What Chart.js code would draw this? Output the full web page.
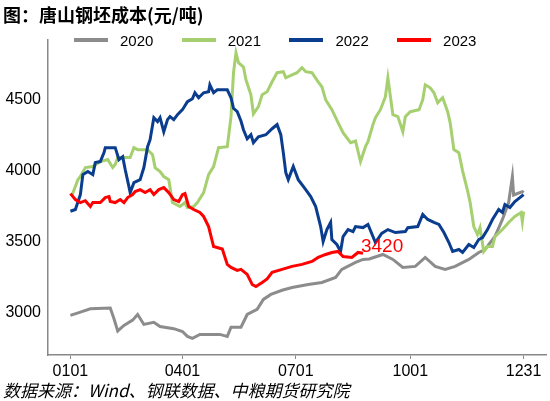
<!DOCTYPE html>
<html>
<head>
<meta charset="utf-8">
<script src="https://cdn.jsdelivr.net/npm/chart.js@4.4.0/dist/chart.umd.min.js"></script>
<style>
  body { margin: 0; background: #fff; }
  #wrap { position: relative; width: 550px; height: 401px; overflow: hidden; }
  #chart { position: absolute; left: 0; top: 0; }
  .title { position: absolute; left: 3px; top: 5px; font: bold 18px "Noto Sans CJK SC", sans-serif; line-height: 18px; color: #000; }
  .source { position: absolute; left: 3px; top: 381px; font: italic 17px "Noto Sans CJK SC", sans-serif; line-height: 17px; color: #000; }
  .legend-item { position: absolute; top: 32px; height: 16px; display: flex; align-items: center; font: 15px "Liberation Sans", Arial, sans-serif; color: #000; }
  .legend-line { display: inline-block; width: 34px; height: 4px; margin-right: 12px; }
</style>
</head>
<body>
<div id="wrap">
  <canvas id="chart" width="550" height="401"></canvas>
  <div class="title">图：唐山钢坯成本(元/吨)</div>
  <div id="legend"></div>
  <div class="source">数据来源：Wind、钢联数据、中粮期货研究院</div>
</div>
<script>
// day of year (0 = 0101) and cost values
const days2020 = [0,8,16,32,35,38,43,50,54,59,67,72,83,90,94,98,104,120,126,129,137,142,150,155,161,170,178,191,202,213,218,229,235,240,251,259,267,277,285,293,301,309,320,328,333,341,347,352,355,356,363,364];
const cost2020 = [2984,3007,3030,3035,2960,2874,2913,2950,2990,2920,2935,2905,2890,2870,2836,2822,2850,2850,2836,2900,2900,2990,3026,3096,3131,3160,3180,3201,3215,3250,3307,3356,3377,3380,3412,3377,3321,3328,3391,3328,3307,3328,3377,3426,3447,3538,3658,3777,3959,3830,3854,3847];

const days2021 = [1,6,8,12,18,24,30,34,36,38,48,51,54,62,66,68,72,75,79,82,88,92,94,99,102,107,111,115,119,126,129,131,133,135,139,141,145,147,151,154,158,162,166,171,173,178,182,186,189,194,199,202,205,210,215,219,225,229,233,237,239,243,245,249,253,255,259,263,267,269,273,280,283,285,289,292,295,299,303,305,308,312,315,319,321,324,327,329,332,335,339,341,347,352,357,362,363,364];
const cost2021 = [3821,3938,3960,4023,4030,4065,4079,4023,4044,4093,4093,4163,4149,4149,4114,4023,3995,3960,3938,3777,3749,3777,3742,3749,3777,3847,3973,4030,4163,4170,4381,4690,4830,4760,4730,4640,4535,4400,4451,4535,4556,4626,4690,4697,4654,4675,4690,4725,4697,4690,4626,4591,4500,4430,4339,4268,4198,4210,4065,4170,4205,4325,4374,4430,4521,4654,4395,4381,4275,4381,4416,4430,4500,4605,4584,4549,4479,4514,4416,4339,4149,4128,4000,3860,3780,3608,3552,3600,3433,3468,3468,3538,3587,3637,3679,3707,3644,3714];

const days2022 = [0,4,8,10,14,18,20,24,27,28,36,39,42,44,47,48,51,56,59,62,64,67,70,72,75,78,80,83,86,90,94,98,100,103,107,111,112,115,118,126,129,131,134,137,139,142,145,147,151,157,162,166,169,171,173,175,179,183,189,193,197,201,203,206,209,210,214,217,219,223,227,229,235,239,243,245,250,255,261,269,271,279,283,287,292,296,300,304,307,312,315,320,324,328,331,335,339,344,347,349,353,357,361,364];
const cost2022 = [3716,3728,3833,3973,3995,3973,4058,4065,4128,4163,4163,4079,4100,4009,3889,3847,3917,3938,4023,4170,4219,4374,4346,4374,4275,4360,4381,4360,4395,4430,4486,4507,4549,4514,4549,4556,4605,4549,4570,4570,4514,4440,4416,4350,4289,4225,4254,4198,4240,4254,4296,4325,4254,4128,3988,3938,4030,3938,3868,3819,3749,3608,3503,3587,3637,3517,3482,3433,3538,3587,3573,3608,3601,3623,3538,3496,3560,3587,3566,3573,3600,3608,3693,3658,3637,3623,3566,3496,3433,3447,3426,3482,3461,3517,3531,3587,3658,3728,3707,3763,3742,3784,3812,3833];

const days2023 = [0,4,8,12,16,18,24,28,31,32,36,40,43,46,50,52,56,60,64,67,71,75,79,83,87,90,92,95,99,104,107,111,115,122,126,129,134,137,142,146,149,154,158,162,170,178,186,194,199,205,210,215,219,226,231,235];
const cost2023 = [3840,3798,3777,3790,3749,3777,3777,3812,3819,3784,3777,3798,3777,3812,3833,3854,3868,3847,3868,3833,3868,3882,3847,3798,3784,3833,3840,3749,3728,3707,3679,3608,3468,3450,3342,3321,3300,3307,3272,3201,3187,3215,3240,3286,3307,3328,3342,3363,3391,3412,3426,3433,3398,3391,3426,3420];

const seriesNames = ['2020', '2021', '2022', '2023'];
const seriesColors = ['#8c8c8c', '#a6d06f', '#0b3d8f', '#ff0000'];

const xTickDays = [0, 90, 181, 273, 364];
const xTickLabels = ['0101', '0401', '0701', '1001', '1231'];
const yTicks = [3000, 3500, 4000, 4500];

function toPoints(days, vals) {
    return days.map((d, i) => ({ x: d, y: vals[i] }));
}

const allDays = [days2020, days2021, days2022, days2023];
const allCosts = [cost2020, cost2021, cost2022, cost2023];

// Build the html legend
const legendEl = document.getElementById('legend');
seriesNames.forEach((name, i) => {
    const item = document.createElement('div');
    item.className = 'legend-item';
    item.style.left = (74 + i * 107.7) + 'px';
    const line = document.createElement('span');
    line.className = 'legend-line';
    line.style.backgroundColor = seriesColors[i];
    const label = document.createElement('span');
    label.textContent = name;
    item.appendChild(line);
    item.appendChild(label);
    legendEl.appendChild(item);
});

// Label the last point of 2023
const lastValueLabel = {
    id: 'lastValueLabel',
    afterDatasetsDraw(chart) {
        const meta = chart.getDatasetMeta(3);
        const pt = meta.data[meta.data.length - 1];
        const ctx = chart.ctx;
        ctx.save();
        ctx.font = '19px "Liberation Sans", Arial, sans-serif';
        ctx.fillStyle = '#ff0000';
        ctx.textAlign = 'left';
        ctx.textBaseline = 'bottom';
        ctx.fillText(String(cost2023[cost2023.length - 1]), pt.x - 2, pt.y + 3);
        ctx.restore();
    }
};

const ctx = document.getElementById('chart').getContext('2d');
const chart = new Chart(ctx, {
    type: 'line',
    data: {
        datasets: seriesNames.map((name, i) => ({
            label: name,
            data: toPoints(allDays[i], allCosts[i]),
            borderColor: seriesColors[i],
            backgroundColor: seriesColors[i],
            borderWidth: 3,
            pointRadius: 0,
            tension: 0,
            order: 4 - i
        }))
    },
    options: {
        responsive: false,
        devicePixelRatio: 1,
        animation: false,
        layout: { padding: { top: 40, right: 4, left: 0, bottom: 0 } },
        plugins: {
            legend: { display: false },
            tooltip: { enabled: false }
        },
        scales: {
            x: {
                type: 'linear',
                min: -18,
                max: 382,
                afterFit: s => { s.height = 46; },
                afterBuildTicks: s => { s.ticks = xTickDays.map(v => ({ value: v })); },
                grid: { drawOnChartArea: false, drawTicks: true, tickLength: 4, color: '#888' },
                border: { color: '#888', width: 1.5 },
                ticks: {
                    padding: 3,
                    maxRotation: 0,
                    autoSkip: false,
                    color: '#000',
                    font: { family: '"Liberation Sans", Arial, sans-serif', size: 16 },
                    callback: (v, i) => xTickLabels[i]
                }
            },
            y: {
                min: 2705,
                max: 4920,
                afterFit: s => { s.width = 48; },
                afterBuildTicks: s => { s.ticks = yTicks.map(v => ({ value: v })); },
                grid: { drawOnChartArea: false, drawTicks: false },
                border: { color: '#888', width: 1.5 },
                ticks: {
                    padding: 7,
                    color: '#000',
                    font: { family: '"Liberation Sans", Arial, sans-serif', size: 16 },
                    callback: v => String(v)
                }
            }
        }
    },
    plugins: [lastValueLabel]
});
</script>
</body>
</html>
